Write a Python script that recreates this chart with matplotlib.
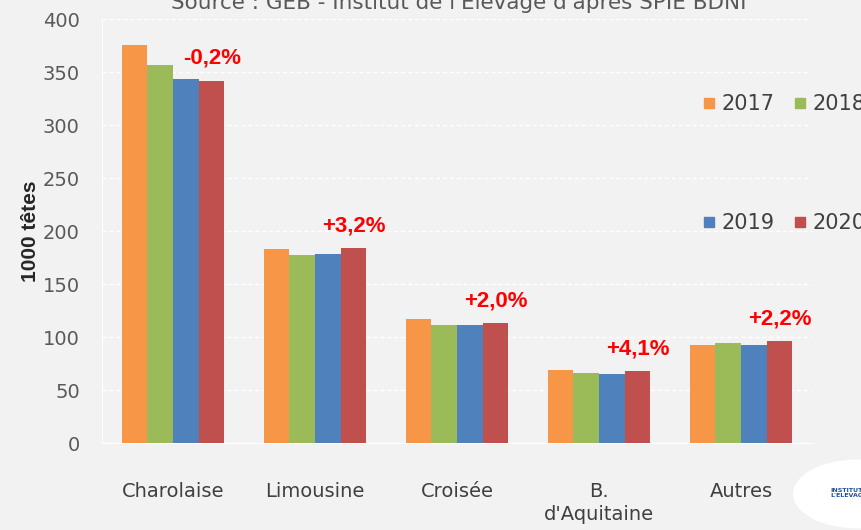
import numpy as np
import matplotlib.pyplot as plt
from matplotlib.lines import Line2D
from matplotlib.patches import Ellipse

categories = ["Charolaise", "Limousine", "Croisée", "B.\nd'Aquitaine", "Autres"]
years = ["2017", "2018", "2019", "2020"]
v2017 = [376, 183, 117, 69, 93]
v2018 = [357, 177, 111, 66, 94]
v2019 = [343, 178, 111, 65, 93]
v2020 = [342, 184, 113, 68, 96]
changes = ["-0,2%", "+3,2%", "+2,0%", "+4,1%", "+2,2%"]
colors = ["#F79646", "#9BBB59", "#4F81BD", "#C0504D"]

plt.rcParams["font.family"] = ["DejaVu Sans"]

fig = plt.figure(figsize=(8.62, 5.30), dpi=100, facecolor="#F2F2F2")
ax = fig.add_axes([0.1183, 0.164, 0.8237, 0.800])
ax.set_facecolor("#F2F2F2")

x = np.arange(len(categories))
w = 0.181
series = [v2017, v2018, v2019, v2020]
for i, vals in enumerate(series):
    ax.bar(x + (i - 1.5) * w, vals, w, color=colors[i], zorder=3)

for xi, val, txt in zip(x, v2020, changes):
    ax.text(xi + 0.275, val + 21, txt, color="#FF0000", fontsize=16,
            fontweight="bold", ha="center", va="center", zorder=4,
            family=["Liberation Sans", "DejaVu Sans"])

ax.set_xlim(-0.5, 4.5)
ax.set_ylim(0, 400)
ax.set_yticks(range(0, 401, 50))
ax.set_xticks(x)
ax.set_xticklabels(categories, fontsize=14, color="#404040", va="top",
                   linespacing=1.3)
ax.tick_params(axis="x", length=0, pad=28)
ax.tick_params(axis="y", length=0, pad=16, labelsize=14, labelcolor="#595959")
ax.yaxis.grid(True, color="white", linestyle=(0, (3, 2)), linewidth=1, zorder=0)
for s in ["top", "right"]:
    ax.spines[s].set_visible(False)
ax.spines["left"].set_color("white")
ax.spines["bottom"].set_color("white")
ax.set_ylabel("1000 têtes", fontsize=15, fontweight="bold", color="#262626",
              labelpad=2, family=["Liberation Sans", "DejaVu Sans"])

fig.text(0.532, 0.995, "Source : GEB - Institut de l'Elevage d'après SPIE BDNI",
         ha="center", va="center", fontsize=15.5, color="#595959")

handles = [Line2D([], [], marker="s", linestyle="", markersize=7.5,
                  color=c) for c in colors]
legend_opts = dict(ncol=2, loc="center left", frameon=False, fontsize=15,
                   handletextpad=0.1, columnspacing=0.7, labelcolor="#404040",
                   handlelength=1.0, borderpad=0, borderaxespad=0)
fig.legend(handles[:2], years[:2], bbox_to_anchor=(0.811, 0.804), **legend_opts)
fig.legend(handles[2:], years[2:], bbox_to_anchor=(0.811, 0.579), **legend_opts)

logo = Ellipse((0.995, 0.068), 0.15, 0.13, transform=fig.transFigure,
               facecolor="white", edgecolor="none")
fig.patches.append(logo)
fig.text(0.963, 0.07, "INSTITUT\nL'ELEVAGE", fontsize=4.5, color="#1F4E9C",
         fontweight="bold", va="center", ha="left")

fig.savefig("out.png", dpi=100, facecolor=fig.get_facecolor())
